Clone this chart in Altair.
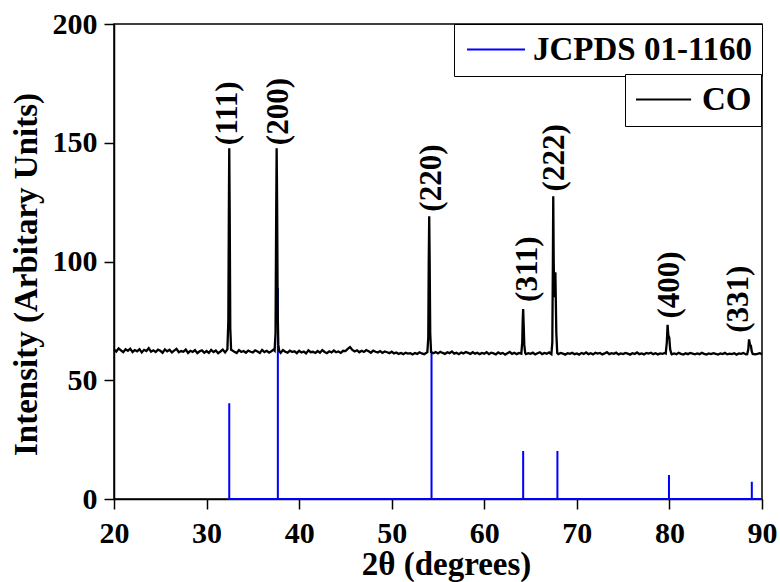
import altair as alt
import pandas as pd

FONT = "Liberation Serif"

# ---- data ----
x_start, x_step = 20.0, 0.25
baseline_y = [
    62.9, 62.1, 63.4, 62.6, 61.8, 63.0, 62.4, 63.3, 61.9, 62.7, 62.2, 63.1, 61.7, 62.8, 62.3, 63.5, 62.0, 62.6, 61.9, 62.9,
    62.4, 61.6, 63.0, 62.2, 62.8, 61.7, 62.5, 63.2, 61.8, 62.3, 62.0, 62.9, 61.5, 62.4, 61.9, 62.7, 61.4, 62.2, 62.6, 61.6,
    62.3, 61.5, 62.8, 61.9, 62.5, 61.4, 62.1, 62.9, 61.7, 62.4, 61.8, 62.6, 62.0, 61.5, 62.7, 61.9, 62.3, 61.6, 62.5, 62.0,
    61.7, 62.6, 62.1, 61.5, 62.8, 61.9, 62.4, 61.6, 62.2, 62.9, 61.8, 62.3, 61.5, 62.7, 62.0, 61.6, 62.5, 61.9, 62.2, 61.4,
    62.4, 61.7, 62.1, 61.3, 62.6, 61.8, 62.0, 61.5, 62.3, 61.6, 62.7, 61.9, 61.4, 62.2, 61.7, 62.5, 61.8, 62.1, 61.5, 62.4,
    62.3, 63.2, 64.0, 62.8, 62.1, 62.6, 61.8, 62.4, 61.9, 62.7, 62.2, 61.6, 62.5, 62.0, 61.7, 62.3, 61.5, 62.1, 61.8, 61.4,
    62.0, 61.3, 61.7, 61.1, 61.5, 61.0, 61.6, 61.2, 61.4, 60.9, 61.5, 61.1, 61.8, 61.3, 61.0, 61.6, 61.2, 61.7, 61.4, 61.9,
    61.3, 62.0, 61.5, 61.1, 61.8, 61.4, 62.1, 61.2, 61.6, 61.0, 61.7, 61.3, 61.9, 61.5, 61.1, 61.8, 61.2, 61.6, 61.0, 61.5,
    61.2, 61.8, 61.0, 61.6, 61.3, 60.9, 61.7, 61.2, 61.5, 60.8, 61.4, 61.9, 61.1, 61.6, 61.0, 61.5, 61.2, 61.7, 61.0, 61.4,
    61.1, 61.6, 60.9, 61.4, 61.8, 61.0, 61.5, 61.2, 61.7, 60.9, 61.3, 61.6, 61.0, 61.5, 61.2, 60.8, 61.4, 61.1, 61.6, 61.0,
    61.3, 60.8, 61.5, 61.1, 61.7, 61.0, 61.4, 60.9, 61.6, 61.2, 61.5, 60.9, 61.3, 61.8, 61.0, 61.4, 61.1, 61.6, 60.9, 61.3,
    61.0, 61.5, 61.2, 60.8, 61.4, 61.1, 61.7, 61.0, 61.3, 60.9, 61.5, 61.2, 61.6, 61.0, 61.4, 60.9, 61.3, 61.1, 61.5, 61.0,
    61.4, 60.9, 61.3, 61.0, 61.6, 61.1, 60.8, 61.4, 61.0, 61.5, 61.2, 60.9, 61.3, 61.0, 61.6, 61.1, 60.8, 61.3, 61.0, 61.4,
    61.1, 60.8, 61.3, 61.0, 61.5, 60.9, 61.2, 61.0, 61.4, 60.8, 61.3, 61.1, 61.5, 60.9, 61.2, 61.0, 61.3, 60.9, 61.1, 61.4,
    61.0,
]

peak_x = [
    [32.25, 32.35, 32.42, 32.45, 32.50, 32.56, 32.65],
    [37.35, 37.45, 37.52, 37.57, 37.62, 37.68, 37.75, 37.85],
    [53.85, 53.95, 54.00, 54.05, 54.10, 54.16, 54.25],
    [64.00, 64.10, 64.15, 64.20, 64.25, 64.32, 64.42],
    [67.25, 67.35, 67.41, 67.45, 67.50, 67.56, 67.68, 67.78, 67.88],
    [79.60, 79.72, 79.80, 79.88, 79.98, 80.08, 80.20],
    [88.40, 88.52, 88.60, 88.70, 88.80, 88.90, 89.00],
]
peak_y = [
    [63.0, 75.0, 130.0, 147.7, 120.0, 72.0, 62.8],
    [62.5, 70.0, 120.0, 147.7, 125.0, 80.0, 65.0, 62.3],
    [61.8, 68.0, 100.0, 119.0, 100.0, 70.0, 61.9],
    [61.2, 66.0, 75.0, 80.0, 74.0, 65.0, 61.4],
    [61.0, 66.0, 100.0, 127.5, 100.0, 85.0, 95.5, 70.0, 61.5],
    [61.3, 66.0, 73.3, 69.0, 68.0, 63.0, 61.2],
    [61.0, 63.0, 67.2, 65.0, 64.5, 62.0, 61.1],
]

jcpds_pos = [32.45, 37.70, 54.30, 64.20, 67.90, 79.95, 88.90]
jcpds_int = [40.3, 88.8, 62.0, 20.2, 20.2, 10.1, 7.3]

hkl_text = ["(111)", "(200)", "(220)", "(311)", "(222)", "(400)", "(331)"]
hkl_x = [32.31, 37.82, 54.35, 64.67, 67.64, 80.06, 87.52]
hkl_y = [149.0, 149.0, 121.0, 83.0, 129.5, 76.0, 70.0]

x_ticks = [20, 30, 40, 50, 60, 70, 80, 90]
y_ticks = [0, 50, 100, 150, 200]

# ---- build tables ----
base_x = [round(x_start + i * x_step, 2) for i in range(len(baseline_y))]
windows = [(min(px), max(px)) for px in peak_x]
pts = [(bx, by) for bx, by in zip(base_x, baseline_y)
       if not any(lo <= bx <= hi for lo, hi in windows)]
for px, py in zip(peak_x, peak_y):
    pts += list(zip(px, py))
pts.sort()
co_df = pd.DataFrame(pts, columns=["x", "y"])
co_df["series"] = "CO"

jx, jy = [], []
for p, h in zip(jcpds_pos, jcpds_int):
    jx += [p, p, p]
    jy += [0, h, 0]
jx.append(90)
jy.append(0)
jc_df = pd.DataFrame({"x": jx, "y": jy, "order": list(range(len(jx)))})
jc_df["series"] = "JCPDS 01-1160"

lab_df = pd.DataFrame({"x": hkl_x, "y": hkl_y, "label": hkl_text})

# ---- encodings ----
x_enc = alt.X("x:Q", scale=alt.Scale(domain=[20, 90], nice=False),
              axis=alt.Axis(title="2θ (degrees)", values=x_ticks, grid=False,
                            labelPadding=9, titlePadding=0, titleX=332))
y_enc = alt.Y("y:Q", scale=alt.Scale(domain=[0, 200], nice=False),
              axis=alt.Axis(title="Intensity (Arbitary Units)", values=y_ticks, grid=False,
                            labelPadding=7, titlePadding=9, titleY=250))

leg_common = dict(title=None, padding=9,
                  strokeColor="black", fillColor="white",
                  symbolSize=841, symbolStrokeWidth=2,
                  labelFont=FONT, labelFontSize=33, labelFontWeight="bold",
                  labelColor="black", cornerRadius=0, labelLimit=400)

jc = alt.Chart(jc_df).mark_line(strokeWidth=2).encode(
    x=x_enc, y=y_enc, order="order:Q",
    color=alt.Color("series:N",
                    scale=alt.Scale(domain=["JCPDS 01-1160"], range=["#0000ff"]),
                    legend=alt.Legend(orient="top-right", offset=0, labelOffset=37,
                                      symbolType="M-0.86,0H3.14", **leg_common)),
)

co = alt.Chart(co_df).mark_line(strokeWidth=2.3).encode(
    x=x_enc, y=y_enc,
    color=alt.Color("series:N",
                    scale=alt.Scale(domain=["CO"], range=["#000000"]),
                    legend=alt.Legend(orient="none", legendX=511, legendY=50, labelOffset=35,
                                      symbolType="M-1,0H2.8", **leg_common)),
)

labels = alt.Chart(lab_df).mark_text(
    angle=270, align="left", baseline="middle", font=FONT,
    fontWeight="bold", fontSize=31, color="black",
).encode(x=x_enc, y=y_enc, text="label:N")

chart = (
    alt.layer(jc, co, labels)
    .resolve_scale(color="independent")
    .properties(
        width=648, height=475,
        padding={"left": 114, "top": 24, "right": 18, "bottom": 83},
        autosize=alt.AutoSizeParams(type="none"),
        background="white",
    )
    .configure_view(stroke="black", strokeWidth=1.5)
    .configure_axis(
        domainColor="black", domainWidth=1.5, tickColor="black", tickWidth=1.5,
        tickSize=10, labelFont=FONT, labelFontSize=30, labelFontWeight="bold",
        labelColor="black", titleFont=FONT, titleFontSize=33, titleFontWeight="bold",
        titleColor="black", labelFlush=False,
    )
)

chart.save("out.html", embed_options={"renderer": "svg", "actions": False})
